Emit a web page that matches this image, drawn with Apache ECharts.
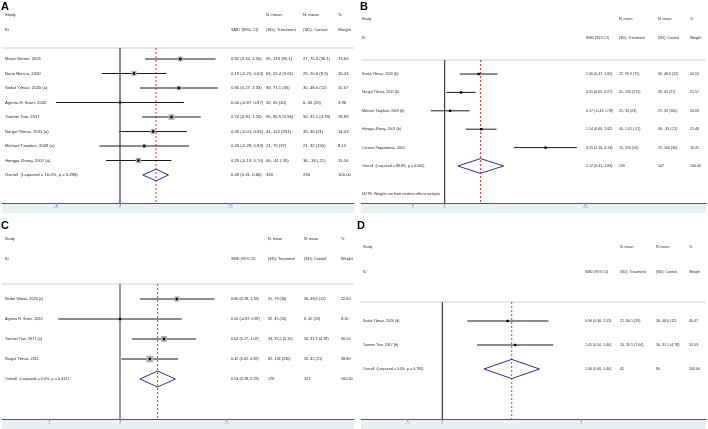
<!DOCTYPE html>
<html><head><meta charset="utf-8">
<script src="https://cdn.jsdelivr.net/npm/echarts@6/dist/echarts.min.js"></script>
<style>html,body{margin:0;padding:0;background:#fff}#c{width:708px;height:429px}</style>
</head><body><div id="c"></div>
<script>
// ---------- Panel A ----------
const A_studies = ["Murat Gönen, 2021","Nuria Riesco, 2020","Sedat Yilmaz, 2020 (a)","Agneta H. Sroer, 2020","Yanmei Tian, 2017","Nurgul Yilmaz, 2011 (a)","Michael Tzeplaer, 2009 (a)","Hongya Zhang, 2007 (a)"];
const A_smd = [0.82, 0.19, 0.80, 0.00, 0.70, 0.45, 0.33, 0.25];
const A_lo = [0.34, -0.25, 0.27, -0.87, 0.30, -0.01, -0.28, -0.19];
const A_hi = [1.30, 0.63, 1.33, 0.87, 1.10, 0.91, 0.94, 0.70];
const A_treat = ["65, 133 (85.1)","63, 22.4 (9.61)","30, 71.1 (35)","32, 45 (20)","65, 35.5 (5.56)","41, 122 (231)","21, 75 (37)","40, .41 (.35)"];
const A_ctrl = ["27, 75.3 (36.1)","29, 20.6 (8.3)","30, 48.6 (12)","6, 45 (20)","50, 31.1 (4.78)","35, 45 (21)","21, 32 (150)","36, .33 (.21)"];
const A_weight = [13.65, 15.43, 10.67, 3.96, 18.99, 14.43, 8.12, 15.16];
const A_overall = [0.49, 0.31, 0.66];
const A_overallText = ["Overall  (I-squared = 16.0%, p = 0.288)", "330", "236", "100.00"];
const A_ticks = [-0.87, 0, 1.5];
const A_tickLabels = ["-.87", "0", "1.5"];

// ---------- Panel B ----------
const B_studies = ["Sedat Yilmaz, 2020 (b)","Nurgul Yilmaz, 2011 (b)","Michael Tzeplaer, 2009 (b)","Hongya Zhang, 2007 (b)","Coronis Papandreou, 2005"];
const B_smd = [1.06, 0.51, 0.17, 1.14, 3.15];
const B_lo = [0.47, 0.05, -0.43, 0.66, 2.16];
const B_hi = [1.65, 0.97, 0.78, 1.62, 4.13];
const B_treat = ["22, 99.9 (75)","41, 135 (215)","21, 33 (23)","40, 1.01 (.51)","15, 210 (50)"];
const B_ctrl = ["30, 48.6 (12)","35, 45 (21)","21, 32 (165)","36, .33 (.21)","25, 100 (30)"];
const B_weight = [20.53, 21.57, 20.03, 21.46, 16.41];
const B_overall = [1.12, 0.41, 1.84];
const B_overallText = ["Overall  (I-squared = 88.8%, p = 0.000)", "139", "147", "100.00"];
const B_note = "NOTE: Weights are from random-effects analysis";
const B_ticks = [-1, 0, 4.4];
const B_tickLabels = ["-1", "0", "4.4"];

// ---------- Panel C ----------
const C_studies = ["Sedat Yilmaz, 2020 (c)","Agneta H. Sroer, 2020","Yanmei Tian, 2017 (a)","Nurgul Yilmaz, 2011"];
const C_smd = [0.80, 0.00, 0.62, 0.42];
const C_lo = [0.28, -0.87, 0.17, 0.02];
const C_hi = [1.33, 0.87, 1.07, 0.82];
const C_treat = ["31, 79 (30)","32, 45 (20)","33, 35.5 (5.10)","82, 134 (230)"];
const C_ctrl = ["30, 48.6 (12)","6, 45 (20)","50, 31.1 (4.78)","35, 45 (21)"];
const C_weight = [22.60, 8.10, 30.50, 38.80];
const C_overall = [0.53, 0.28, 0.78];
const C_overallText = ["Overall  (I-squared = 0.0%, p = 0.412)", "178", "121", "100.00"];
const C_ticks = [-1, 0, 1.5];
const C_tickLabels = ["-1", "0", "1.5"];

// ---------- Panel D ----------
const D_studies = ["Sedat Yilmaz, 2020 (d)","Yanmei Tian, 2017 (b)"];
const D_smd = [0.94, 1.05];
const D_lo = [0.36, 0.50];
const D_hi = [1.53, 1.60];
const D_treat = ["21, 80.1 (29)","20, 35.5 (7.04)"];
const D_ctrl = ["30, 48.6 (12)","50, 31.1 (4.78)"];
const D_weight = [46.47, 53.53];
const D_overall = [1.00, 0.60, 1.40];
const D_overallText = ["Overall  (I-squared = 0.0%, p = 0.780)", "41", "80", "100.00"];
const D_ticks = [-0.5, 0, 2];
const D_tickLabels = ["-.5", "0", "2"];

const HEAD1 = ["Study", "N, mean", "N, mean", "%"];
const HEAD2 = ["ID", "SMD (95% CI)", "(SD); Treatment", "(SD); Control", "Weight"];

// ---------- layout / style ----------
const panels = [
  {letter:"A", studies:A_studies, smd:A_smd, lo:A_lo, hi:A_hi, treat:A_treat, ctrl:A_ctrl, weight:A_weight, overall:A_overall, ov:A_overallText, ticks:A_ticks, tickLabels:A_tickLabels,
   L:{left:2, right:354, nullX:120, ppu:73.5, hdrLine:48, axisY:203, row1:59, step:14.5, hdr1:15, hdr2:30, lx:1, ly:7, studyX:5, cols:[231,266,303,338], font:4.2, boxK:1.35, nullColor:'#111', nullW:1}},
  {letter:"B", studies:B_studies, smd:B_smd, lo:B_lo, hi:B_hi, treat:B_treat, ctrl:B_ctrl, weight:B_weight, overall:B_overall, ov:B_overallText, ticks:B_ticks, tickLabels:B_tickLabels, note:B_note,
   L:{left:361, right:706, nullX:444.7, ppu:32, hdrLine:60, axisY:203, row1:74, step:18.4, hdr1:19, hdr2:38, lx:360, ly:7, studyX:362, cols:[586,619,658,690], font:3.6, boxK:0, nullColor:'#111', nullW:1, noteY:194}},
  {letter:"C", studies:C_studies, smd:C_smd, lo:C_lo, hi:C_hi, treat:C_treat, ctrl:C_ctrl, weight:C_weight, overall:C_overall, ov:C_overallText, ticks:C_ticks, tickLabels:C_tickLabels,
   L:{left:2, right:354, nullX:120, ppu:71, hdrLine:284, axisY:419, row1:299, step:20, hdr1:239, hdr2:259, lx:1, ly:226, studyX:5, cols:[231,268,304,341], font:3.8, boxK:1.1, nullColor:'#999', nullW:2}},
  {letter:"D", studies:D_studies, smd:D_smd, lo:D_lo, hi:D_hi, treat:D_treat, ctrl:D_ctrl, weight:D_weight, overall:D_overall, ov:D_overallText, ticks:D_ticks, tickLabels:D_tickLabels,
   L:{left:361, right:706, nullX:442.3, ppu:69.4, hdrLine:302, axisY:419, row1:321, step:24, hdr1:247, hdr2:272, lx:357, ly:226, studyX:363, cols:[585,620,656,689], font:3.6, boxK:0, nullColor:'#111', nullW:1}}
];

const FONT = "'Liberation Sans', Arial, sans-serif";
const TXT = '#262626';
const f2 = v => v.toFixed(2);

const grid = [], xAxis = [], yAxis = [], series = [], graphic = [];

function txt(x, y, s, size, extra) {
  return Object.assign({type:'text', x, y, style:{text:s, fontSize:size, fontFamily:FONT, fill:TXT, align:'left', verticalAlign:'middle'}}, extra || {});
}

panels.forEach((p, k) => {
  const L = p.L;
  const ymin = 1 + (L.hdrLine - L.row1) / L.step;
  const ymax = 1 + (L.axisY - L.row1) / L.step;
  grid.push({left:L.left, top:L.hdrLine, width:L.right - L.left, height:L.axisY - L.hdrLine, containLabel:false});
  xAxis.push({
    gridIndex:k, type:'value', z:10,
    min:(L.left - L.nullX) / L.ppu, max:(L.right - L.nullX) / L.ppu,
    axisLine:{show:true, onZero:false, lineStyle:{color:'#555', width:1}},
    splitLine:{show:false},
    axisTick:{show:true, customValues:p.ticks, length:3, lineStyle:{color:'#888', width:0.8}},
    axisLabel:{show:true, customValues:p.ticks, fontSize:3.4, color:'#9a9a9a', margin:3, fontFamily:FONT,
      formatter: v => { const i = p.ticks.findIndex(t => Math.abs(t - v) < 1e-6); return i >= 0 ? p.tickLabels[i] : ''; }}
  });
  yAxis.push({gridIndex:k, type:'value', inverse:true, min:ymin, max:ymax, show:false});

  // band under axis, header line, letter, header texts
  graphic.push({type:'rect', z:-5, shape:{x:L.left, y:L.axisY, width:L.right - L.left, height:10}, style:{fill:'#e9f1f5'}});
  graphic.push({type:'line', shape:{x1:L.left, y1:L.hdrLine, x2:L.right, y2:L.hdrLine}, style:{stroke:'#d0d0d0', lineWidth:1}});
  graphic.push({type:'text', x:L.lx, y:L.ly, style:{text:p.letter, fontSize:11, fontWeight:'bold', fontFamily:FONT, fill:'#000', verticalAlign:'middle'}});
  graphic.push(txt(L.studyX, L.hdr1, HEAD1[0], L.font));
  graphic.push(txt(L.cols[1], L.hdr1, HEAD1[1], L.font));
  graphic.push(txt(L.cols[2], L.hdr1, HEAD1[2], L.font));
  graphic.push(txt(L.cols[3], L.hdr1, HEAD1[3], L.font));
  graphic.push(txt(L.studyX, L.hdr2, HEAD2[0], L.font));
  graphic.push(txt(L.cols[0], L.hdr2, HEAD2[1], L.font));
  graphic.push(txt(L.cols[1], L.hdr2, HEAD2[2], L.font));
  graphic.push(txt(L.cols[2], L.hdr2, HEAD2[3], L.font));
  graphic.push(txt(L.cols[3], L.hdr2, HEAD2[4], L.font));
  if (p.note) graphic.push(txt(L.studyX, L.noteY, p.note, L.font));

  // reference lines: null (0) and overall estimate
  series.push({
    type:'custom', xAxisIndex:k, yAxisIndex:k, z:1, silent:true, animation:false,
    data:[[0, ymin, 0], [p.overall[0], ymin, 1]],
    renderItem:(params, api) => {
      const x = api.value(0), kind = api.value(2);
      const a = api.coord([x, ymin]), b = api.coord([x, ymax]);
      return {type:'line', shape:{x1:a[0], y1:a[1], x2:b[0], y2:b[1]},
        style: kind === 0 ? {stroke:L.nullColor, lineWidth:L.nullW}
                          : {stroke:'#e0393e', lineWidth:1, lineDash:[2, 2]}};
    }
  });

  // study rows
  series.push({
    type:'custom', xAxisIndex:k, yAxisIndex:k, z:3, silent:true, animation:false, clip:false,
    data:p.smd.map((v, i) => [v, i + 1]),
    renderItem:(params, api) => {
      const i = params.dataIndex, r = api.value(1);
      const c = api.coord([api.value(0), r]);
      const lo = api.coord([p.lo[i], r]), hi = api.coord([p.hi[i], r]);
      const y = c[1];
      const ch = [];
      ch.push({type:'line', shape:{x1:lo[0], y1:y, x2:hi[0], y2:y}, style:{stroke:'#1a1a1a', lineWidth:1}});
      if (L.boxK) {
        const s = L.boxK * Math.sqrt(p.weight[i]);
        ch.push({type:'rect', shape:{x:c[0] - s / 2, y:y - s / 2, width:s, height:s}, style:{fill:'#b4b4b4'}});
      }
      ch.push({type:'rect', shape:{x:c[0] - 1.2, y:y - 1.2, width:2.4, height:2.4}, style:{fill:'#000'}});
      ch.push(txt(L.studyX, y, p.studies[i], L.font));
      ch.push(txt(L.cols[0], y, f2(p.smd[i]) + " (" + f2(p.lo[i]) + ", " + f2(p.hi[i]) + ")", L.font));
      ch.push(txt(L.cols[1], y, p.treat[i], L.font));
      ch.push(txt(L.cols[2], y, p.ctrl[i], L.font));
      ch.push(txt(L.cols[3], y, f2(p.weight[i]), L.font));
      return {type:'group', children:ch};
    }
  });

  // overall diamond
  const nOv = p.smd.length + 1;
  series.push({
    type:'custom', xAxisIndex:k, yAxisIndex:k, z:4, silent:true, animation:false, clip:false,
    data:[[p.overall[0], nOv]],
    renderItem:(params, api) => {
      const r = api.value(1), e = api.value(0);
      const pl = api.coord([p.overall[1], r]), pr = api.coord([p.overall[2], r]);
      const pt = api.coord([e, r - 0.4]), pb = api.coord([e, r + 0.4]);
      const y = pl[1];
      return {type:'group', children:[
        {type:'polygon', shape:{points:[pl, pt, pr, pb]}, style:{fill:'none', stroke:'#2e2e8f', lineWidth:1}},
        txt(L.studyX, y, p.ov[0], L.font),
        txt(L.cols[0], y, f2(p.overall[0]) + " (" + f2(p.overall[1]) + ", " + f2(p.overall[2]) + ")", L.font),
        txt(L.cols[1], y, p.ov[1], L.font),
        txt(L.cols[2], y, p.ov[2], L.font),
        txt(L.cols[3], y, p.ov[3], L.font)
      ]};
    }
  });
});

const chart = echarts.init(document.getElementById('c'), null, {renderer:'canvas'});
chart.setOption({animation:false, backgroundColor:'#fff', grid, xAxis, yAxis, series, graphic});
</script>
</body></html>
